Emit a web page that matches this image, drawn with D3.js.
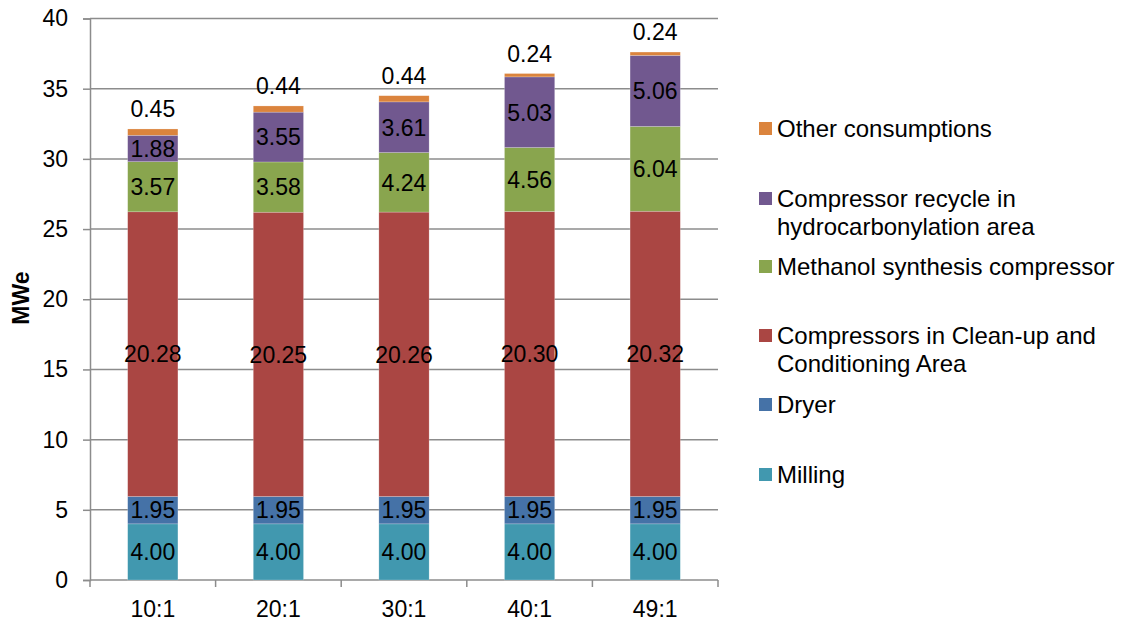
<!DOCTYPE html>
<html>
<head>
<meta charset="utf-8">
<script src="https://cdn.jsdelivr.net/npm/d3@7"></script>
<style>
  html, body { margin: 0; padding: 0; background: #fff; }
  svg { display: block; font-family: "Liberation Sans", Arial, sans-serif; }
</style>
</head>
<body>
<svg id="chart" width="1124" height="621"></svg>
<script>
// Ratios on the x axis
const categories = ["10:1", "20:1", "30:1", "40:1", "49:1"];

// Stack order, bottom to top
const seriesNames = [
  "Milling",
  "Dryer",
  "Compressors in Clean-up and Conditioning Area",
  "Methanol synthesis compressor",
  "Compressor recycle in hydrocarbonylation area",
  "Other consumptions"
];
const milling      = [4.00, 4.00, 4.00, 4.00, 4.00];
const dryer        = [1.95, 1.95, 1.95, 1.95, 1.95];
const cleanup      = [20.28, 20.25, 20.26, 20.30, 20.32];
const methanol     = [3.57, 3.58, 4.24, 4.56, 6.04];
const recycle      = [1.88, 3.55, 3.61, 5.03, 5.06];
const other        = [0.45, 0.44, 0.44, 0.24, 0.24];
const seriesValues = [milling, dryer, cleanup, methanol, recycle, other];

const colors = ["#4198AF", "#4572A7", "#AA4643", "#89A54E", "#71588F", "#DB843D"];

const yTicks = [0, 5, 10, 15, 20, 25, 30, 35, 40];
const yTitle = "MWe";

// Legend, listed top to bottom (each entry may wrap to two lines)
const legendItems = [
  { series: 5, lines: ["Other consumptions"] },
  { series: 4, lines: ["Compressor recycle in", "hydrocarbonylation area"] },
  { series: 3, lines: ["Methanol synthesis compressor"] },
  { series: 2, lines: ["Compressors in Clean-up and", "Conditioning Area"] },
  { series: 1, lines: ["Dryer"] },
  { series: 0, lines: ["Milling"] }
];
const legendRowY = [128, 198, 266, 335, 404, 474];

const svg = d3.select("#chart");
const plotLeft = 90, plotRight = 718, plotTop = 18.5, plotBottom = 580;
const axisColor = "#8c8c8c";
const fontSize = 23;

const x = d3.scaleBand().domain(categories).range([plotLeft, plotRight])
  .paddingInner(0.6).paddingOuter(0.3);
const y = d3.scaleLinear().domain([0, 40]).range([plotBottom, plotTop]);

// Stacked rows
const rows = categories.map((c, i) => {
  const r = { cat: c };
  seriesNames.forEach((s, k) => r[s] = seriesValues[k][i]);
  return r;
});
const stacked = d3.stack().keys(seriesNames)(rows);

// Horizontal gridlines
svg.append("g").selectAll("line").data(yTicks.filter(t => t > 0)).join("line")
  .attr("x1", plotLeft).attr("x2", plotRight)
  .attr("y1", d => y(d)).attr("y2", d => y(d))
  .attr("stroke", axisColor).attr("stroke-width", 1.5);

// Y axis
const yAxis = svg.append("g").attr("transform", `translate(${plotLeft},0)`)
  .call(d3.axisLeft(y).tickValues(yTicks).tickSize(7).tickPadding(15).tickFormat(d3.format("d")));
yAxis.select(".domain").attr("stroke", axisColor).attr("stroke-width", 1.5);
yAxis.selectAll(".tick line").attr("stroke", axisColor).attr("stroke-width", 1.5);
yAxis.selectAll(".tick text").attr("font-size", fontSize).attr("fill", "#000")
  .attr("font-family", "'Liberation Sans', Arial, sans-serif");

// X axis with ticks at category boundaries
const bounds = d3.range(categories.length + 1).map(i => plotLeft + i * x.step());
svg.append("line").attr("x1", plotLeft).attr("x2", plotRight).attr("y1", plotBottom).attr("y2", plotBottom)
  .attr("stroke", axisColor).attr("stroke-width", 1.5);
svg.append("g").selectAll("line").data(bounds).join("line")
  .attr("x1", d => d).attr("x2", d => d).attr("y1", plotBottom).attr("y2", plotBottom + 7)
  .attr("stroke", axisColor).attr("stroke-width", 1.5);
svg.append("g").selectAll("text").data(categories).join("text")
  .attr("x", d => x(d) + x.bandwidth() / 2).attr("y", 617)
  .attr("text-anchor", "middle").attr("font-size", fontSize).attr("fill", "#000")
  .text(d => d);

// Bars
const layers = svg.append("g").selectAll("g").data(stacked).join("g")
  .attr("fill", (d, i) => colors[i]);
layers.selectAll("rect").data(d => d).join("rect")
  .attr("x", d => x(d.data.cat))
  .attr("width", x.bandwidth())
  .attr("y", d => y(d[1]))
  .attr("height", d => y(d[0]) - y(d[1]))
  .attr("stroke", "rgba(255,255,255,0.35)").attr("stroke-width", 0.6);

// Value labels: centred in each segment, top segment above the bar
stacked.forEach((layer, k) => {
  const isTop = k === stacked.length - 1;
  svg.append("g").selectAll("text").data(layer).join("text")
    .attr("x", d => x(d.data.cat) + x.bandwidth() / 2)
    .attr("y", d => isTop ? y(d[1]) - 12 : (y(d[0]) + y(d[1])) / 2 + 8.3)
    .attr("text-anchor", "middle").attr("font-size", fontSize).attr("fill", "#000")
    .text(d => (d[1] - d[0]).toFixed(2));
});

// Y axis title
svg.append("text")
  .attr("transform", `translate(29,298) rotate(-90)`)
  .attr("text-anchor", "middle").attr("font-size", 23).attr("font-weight", "bold")
  .text(yTitle);

// Legend
const legend = svg.append("g");
legendItems.forEach((item, i) => {
  const cy = legendRowY[i];
  legend.append("rect").attr("x", 759).attr("y", cy - 6).attr("width", 13).attr("height", 13)
    .attr("fill", colors[item.series]);
  item.lines.forEach((ln, j) => {
    legend.append("text").attr("x", 777).attr("y", cy + 8.5 + j * 28)
      .attr("font-size", 24).attr("fill", "#000").text(ln);
  });
});
</script>
</body>
</html>
